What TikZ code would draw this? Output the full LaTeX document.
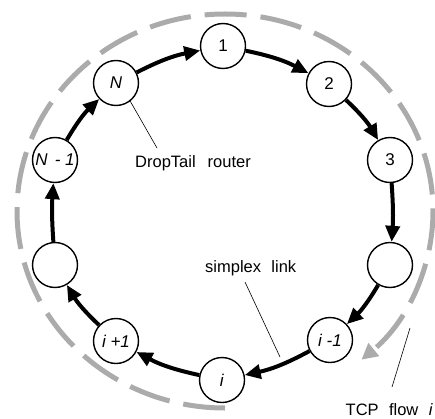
\documentclass[tikz,border=0pt]{standalone}
\usepackage{fontspec}
\setmainfont{Liberation Sans}
\usetikzlibrary{arrows.meta}
\begin{document}
\begin{tikzpicture}[x=1pt,y=1pt,
  router/.style={circle,draw,line width=1.4pt,minimum size=45pt,inner sep=0pt,fill=white,font=\fontsize{17}{19}\selectfont},
  link/.style={line width=4pt,-{Triangle[length=16pt,width=14pt]}},
  leader/.style={line width=0.6pt},
  lbl/.style={font=\fontsize{16.5}{19}\selectfont,inner sep=0pt},
  flow/.style={draw=black!33,line width=5pt,dash pattern=on 42pt off 14pt,-{Triangle[length=16pt,width=16pt]}}]
\useasboundingbox (0,0) rectangle (435,418);
% TCP flow (dashed ring)
\draw[flow] (225,10) arc[start angle=-90,end angle=-409,x radius=208,y radius=197];
% routers
\node[router] (n1) at (223,372) {1};
\node[router] (n2) at (329,334) {2};
\node[router] (n3) at (390,258) {3};
\node[router] (e1) at (390,153) {};
\node[router] (im) at (330,78) {\textit{i -1}};
\node[router] (ii) at (222,38) {\textit{i}};
\node[router] (ip) at (116,77) {\textit{i +1}};
\node[router] (e2) at (55,153) {};
\node[router] (nm) at (55,258) {\textit{N\hspace{0.15em} - 1}};
\node[router] (nn) at (116,335) {\textit{N}};
% links
\draw[link] (n1) to[bend left=8] (n2);
\draw[link] (n2) to[bend left=8] (n3);
\draw[link] (n3) to[bend left=4] (e1);
\draw[link] (e1) to[bend left=8] (im);
\draw[link] (im) to[bend left=8] (ii);
\draw[link] (ii) to[bend left=8] (ip);
\draw[link] (ip) to[bend left=8] (e2);
\draw[link] (e2) to[bend left=4] (nm);
\draw[link] (nm) to[bend left=8] (nn);
\draw[link] (nn) to[bend left=8] (n1);
% labels
\node[lbl,anchor=west] (dt) at (135,255) {DropTail\hspace{0.45em} router};
\node[lbl,anchor=west] (sl) at (205,150) {simplex\hspace{0.35em} link};
\node[lbl,anchor=east] (tcp) at (433,8) {TCP\hspace{0.35em} flow\hspace{0.35em} \textit{i}};
\coordinate (dtend) at (157,270);
\coordinate (slstart) at (245,136);
\coordinate (slend) at (280,61);
\coordinate (tcpstart) at (410,90);
\coordinate (tcpend) at (392,31);
\draw[leader] (nn.-52) -- (dtend);
\draw[leader] (slstart) -- (slend);
\draw[leader] (tcpstart) -- (tcpend);
\end{tikzpicture}
\end{document}
